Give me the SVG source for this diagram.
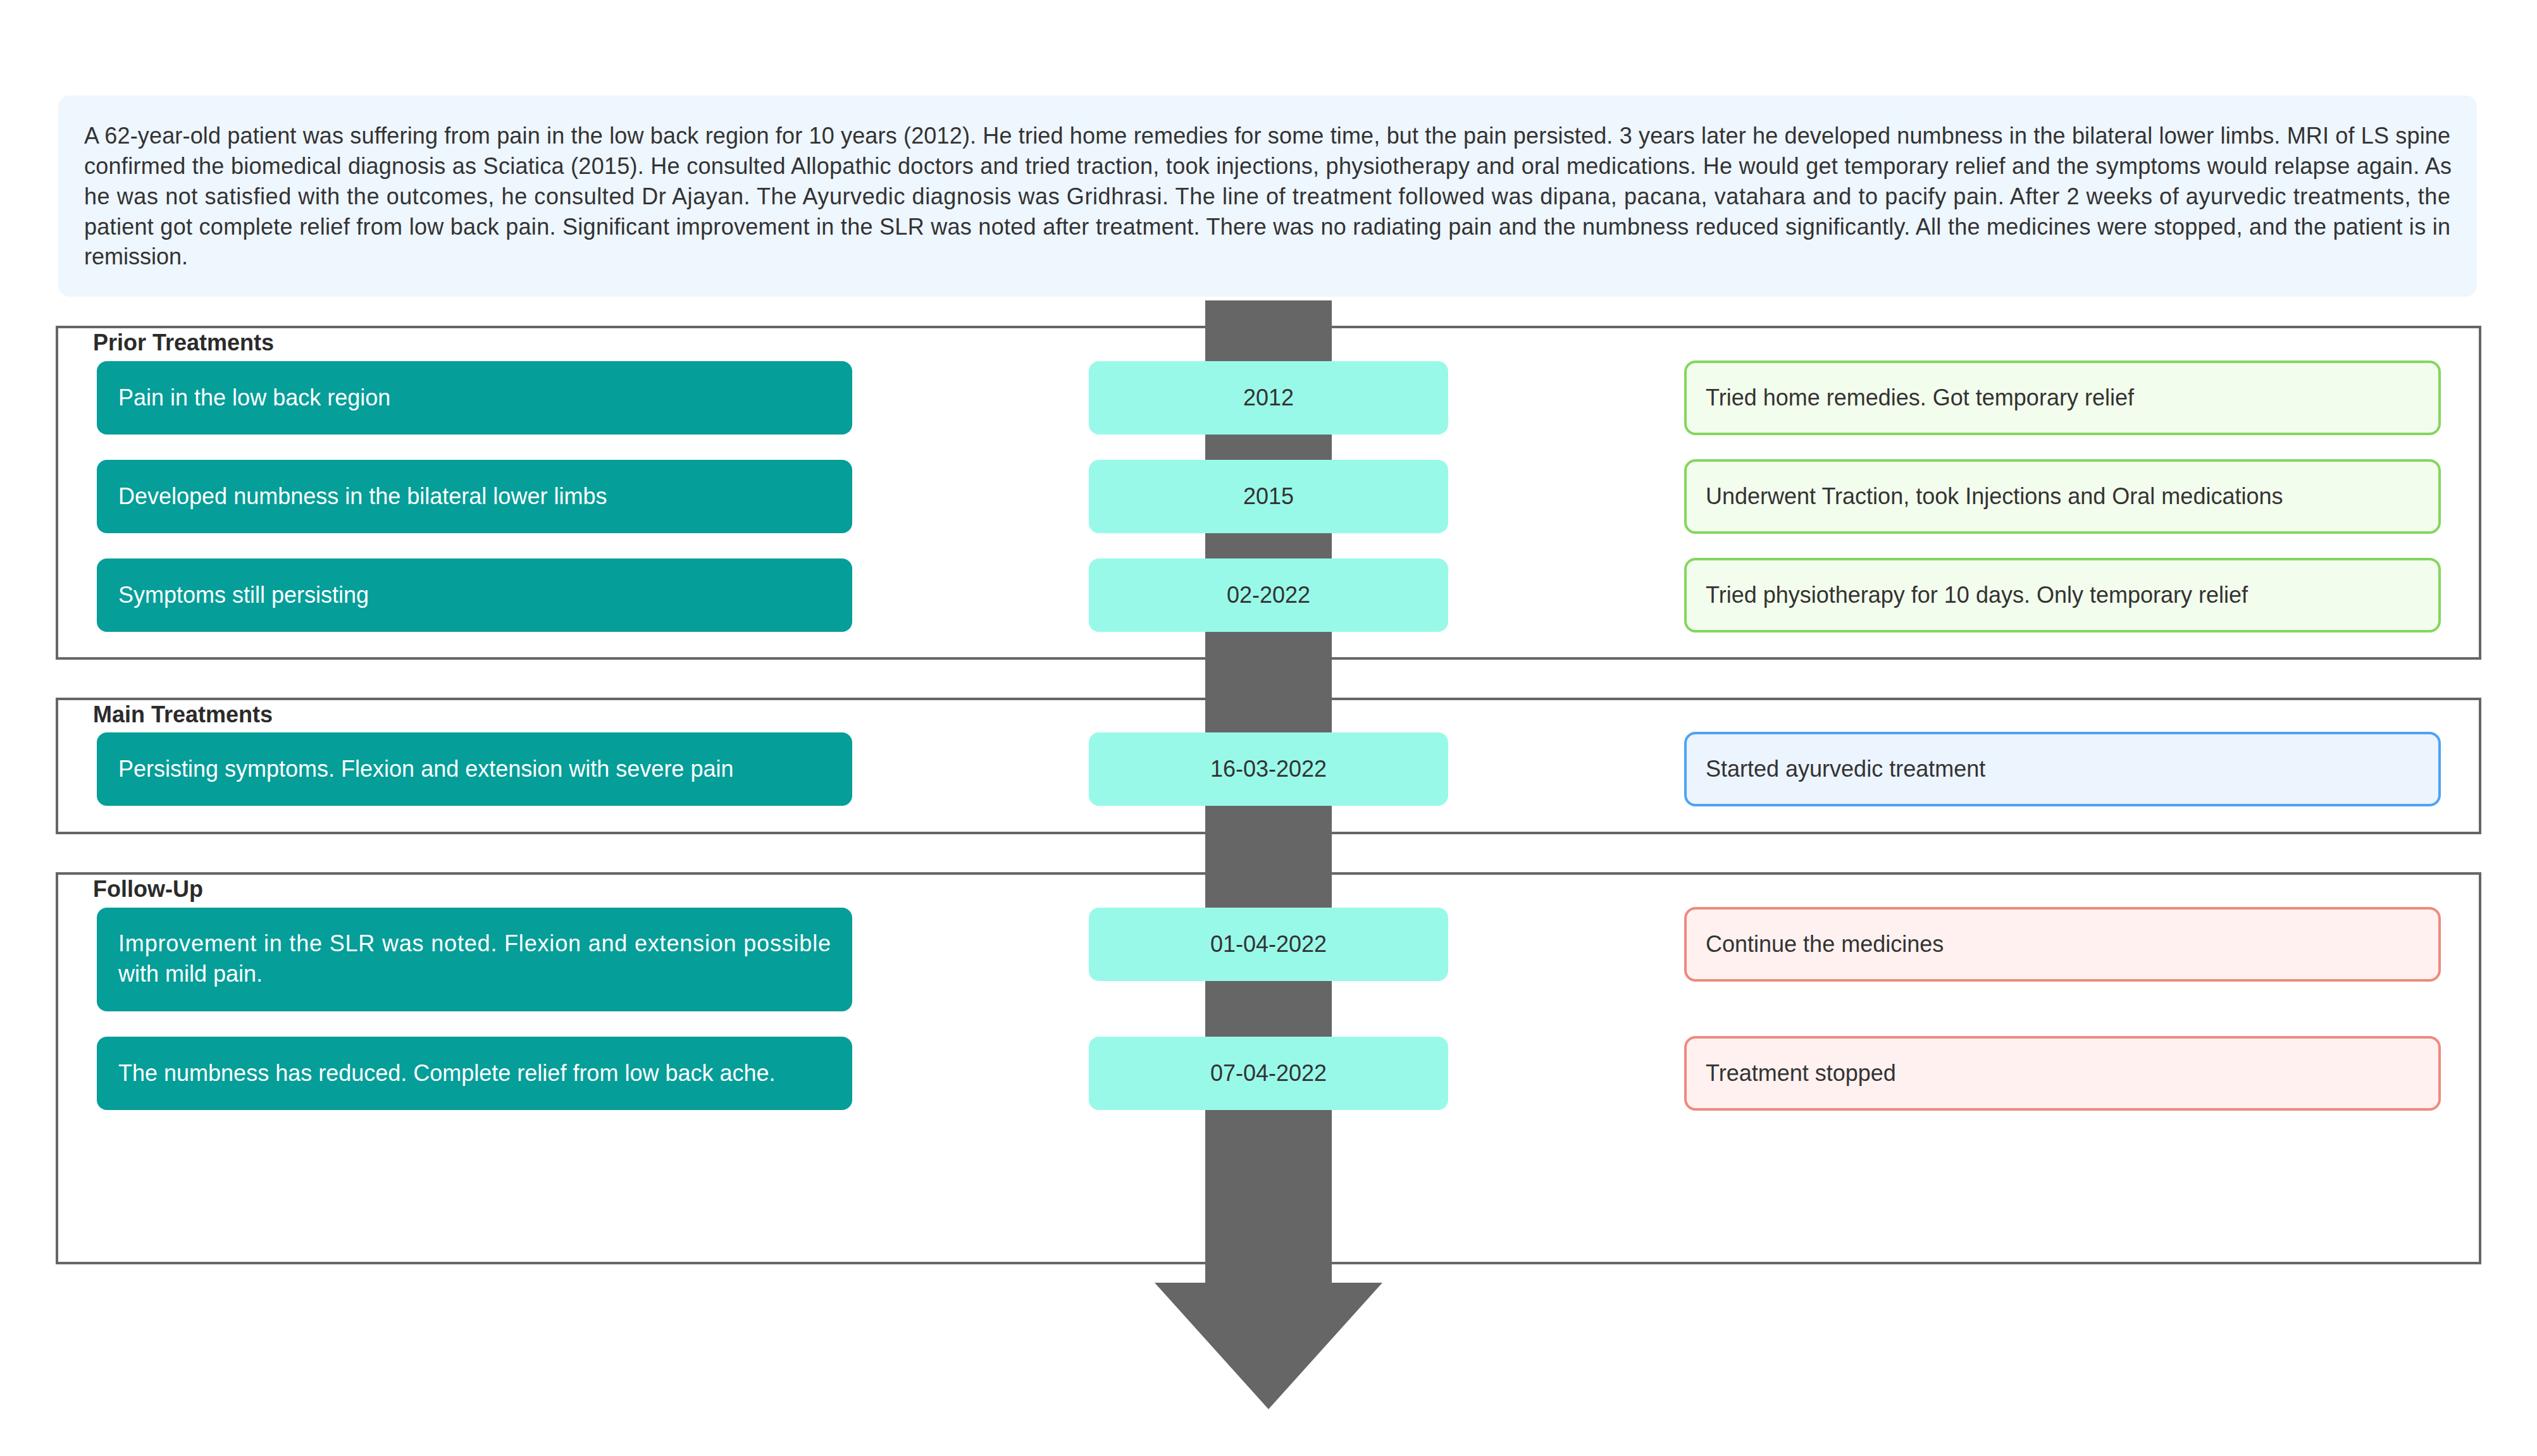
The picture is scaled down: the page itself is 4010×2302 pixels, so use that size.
<svg xmlns="http://www.w3.org/2000/svg" width="4010" height="2302" viewBox="0 0 4010 2302">
<style>
text{font-family:"Liberation Sans",Arial,Helvetica,sans-serif;font-size:36px;fill:#333333}
.sum{fill:#EEF6FE}
.sec{fill:#FFFFFF;stroke:#666666;stroke-width:4}
.ttl{font-weight:bold;fill:#2b2b2b}
.teal{fill:#069E99}
.teal-t{fill:#FFFFFF}
.date{fill:#99F9E9}
.dt{text-anchor:middle}
.grn{fill:#F3FDED;stroke:#84D65E;stroke-width:4}
.blu{fill:#ECF4FE;stroke:#4DA3F5;stroke-width:4}
.red{fill:#FEF1F0;stroke:#EE8A7E;stroke-width:4}
.bar{fill:#666666}
</style>
<rect x="0" y="0" width="4010" height="2302" fill="#FFFFFF"/>
<g id="summary">
<rect class="sum" x="92" y="151" width="3823" height="318" rx="18"/>
<text x="133" y="227" textLength="3740" lengthAdjust="spacing">A 62-year-old patient was suffering from pain in the low back region for 10 years (2012). He tried home remedies for some time, but the pain persisted. 3 years later he developed numbness in the bilateral lower limbs. MRI of LS spine</text>
<text x="133" y="275" textLength="3742" lengthAdjust="spacing">confirmed the biomedical diagnosis as Sciatica (2015). He consulted Allopathic doctors and tried traction, took injections, physiotherapy and oral medications. He would get temporary relief and the symptoms would relapse again. As</text>
<text x="133" y="323" textLength="3740" lengthAdjust="spacing">he was not satisfied with the outcomes, he consulted Dr Ajayan. The Ayurvedic diagnosis was Gridhrasi. The line of treatment followed was dipana, pacana, vatahara and to pacify pain. After 2 weeks of ayurvedic treatments, the</text>
<text x="133" y="371" textLength="3740" lengthAdjust="spacing">patient got complete relief from low back pain. Significant improvement in the SLR was noted after treatment. There was no radiating pain and the numbness reduced significantly. All the medicines were stopped, and the patient is in</text>
<text x="133" y="418">remission.</text>
</g>
<g id="section-prior">
<rect class="sec" x="90" y="517" width="3830" height="524"/>
<text class="ttl" x="147" y="554">Prior Treatments</text>
</g>
<g id="section-main">
<rect class="sec" x="90" y="1105" width="3830" height="212"/>
<text class="ttl" x="147" y="1142">Main Treatments</text>
</g>
<g id="section-followup">
<rect class="sec" x="90" y="1381" width="3830" height="616"/>
<text class="ttl" x="147" y="1418">Follow-Up</text>
</g>
<g id="connectors">
<rect class="bar" x="1905" y="475" width="200" height="1554"/>
<polygon class="bar" points="1825,2028 2185,2028 2005,2228"/>
</g>
<g id="n-e1"><rect class="teal" x="153" y="571" width="1194" height="116" rx="16"/><text class="teal-t" x="187" y="641">Pain in the low back region</text></g>
<g id="n-d1"><rect class="date" x="1721" y="571" width="568" height="116" rx="16"/><text class="dt" x="2005" y="641">2012</text></g>
<g id="n-t1"><rect class="grn" x="2664" y="572" width="1192" height="114" rx="16"/><text x="2696" y="641">Tried home remedies. Got temporary relief</text></g>

<g id="n-e2"><rect class="teal" x="153" y="727" width="1194" height="116" rx="16"/><text class="teal-t" x="187" y="797">Developed numbness in the bilateral lower limbs</text></g>
<g id="n-d2"><rect class="date" x="1721" y="727" width="568" height="116" rx="16"/><text class="dt" x="2005" y="797">2015</text></g>
<g id="n-t2"><rect class="grn" x="2664" y="728" width="1192" height="114" rx="16"/><text x="2696" y="797">Underwent Traction, took Injections and Oral medications</text></g>

<g id="n-e3"><rect class="teal" x="153" y="883" width="1194" height="116" rx="16"/><text class="teal-t" x="187" y="953">Symptoms still persisting</text></g>
<g id="n-d3"><rect class="date" x="1721" y="883" width="568" height="116" rx="16"/><text class="dt" x="2005" y="953">02-2022</text></g>
<g id="n-t3"><rect class="grn" x="2664" y="884" width="1192" height="114" rx="16"/><text x="2696" y="953">Tried physiotherapy for 10 days. Only temporary relief</text></g>

<g id="n-e4"><rect class="teal" x="153" y="1158" width="1194" height="116" rx="16"/><text class="teal-t" x="187" y="1228">Persisting symptoms. Flexion and extension with severe pain</text></g>
<g id="n-d4"><rect class="date" x="1721" y="1158" width="568" height="116" rx="16"/><text class="dt" x="2005" y="1228">16-03-2022</text></g>
<g id="n-t4"><rect class="blu" x="2664" y="1159" width="1192" height="114" rx="16"/><text x="2696" y="1228">Started ayurvedic treatment</text></g>

<g id="n-e5"><rect class="teal" x="153" y="1435" width="1194" height="164" rx="16"/><text class="teal-t" x="187" y="1504" textLength="1126" lengthAdjust="spacing">Improvement in the SLR was noted. Flexion and extension possible</text><text class="teal-t" x="187" y="1552">with mild pain.</text></g>
<g id="n-d5"><rect class="date" x="1721" y="1435" width="568" height="116" rx="16"/><text class="dt" x="2005" y="1505">01-04-2022</text></g>
<g id="n-t5"><rect class="red" x="2664" y="1436" width="1192" height="114" rx="16"/><text x="2696" y="1505">Continue the medicines</text></g>

<g id="n-e6"><rect class="teal" x="153" y="1639" width="1194" height="116" rx="16"/><text class="teal-t" x="187" y="1709">The numbness has reduced. Complete relief from low back ache.</text></g>
<g id="n-d6"><rect class="date" x="1721" y="1639" width="568" height="116" rx="16"/><text class="dt" x="2005" y="1709">07-04-2022</text></g>
<g id="n-t6"><rect class="red" x="2664" y="1640" width="1192" height="114" rx="16"/><text x="2696" y="1709">Treatment stopped</text></g>
</svg>
